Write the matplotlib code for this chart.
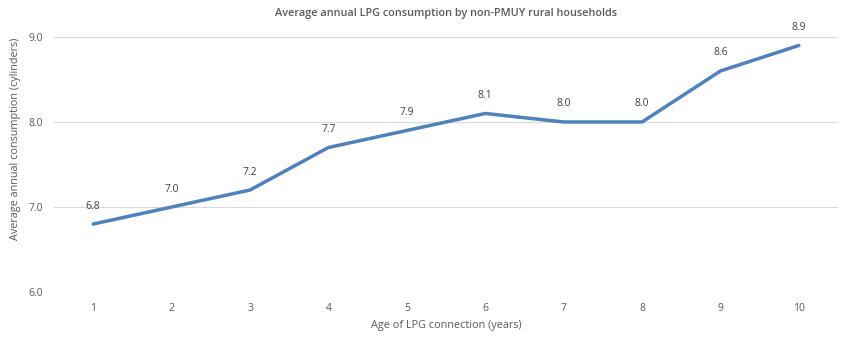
import matplotlib.pyplot as plt

# Data
age = [1, 2, 3, 4, 5, 6, 7, 8, 9, 10]
consumption = [6.8, 7.0, 7.2, 7.7, 7.9, 8.1, 8.0, 8.0, 8.6, 8.9]
yticks = [6.0, 7.0, 8.0, 9.0]

plt.rcParams['font.family'] = ['Open Sans', 'DejaVu Sans']
grey = '#595959'

fig = plt.figure(figsize=(8.5, 3.42), dpi=100)
ax = fig.add_axes([0.0635, 0.146, 0.9225, 0.746])

ax.plot(age, consumption, color='#4F81BD', linewidth=2.5, solid_capstyle='round')
for x, y in zip(age, consumption):
    ax.annotate(f'{y:.1f}', (x, y), xytext=(0, 9), textcoords='offset points',
                ha='center', va='bottom', fontsize=7.5, color='#404040')

ax.set_xlim(0.5, 10.5)
ax.set_ylim(6.0, 9.0)
ax.set_xticks(age)
ax.set_yticks(yticks)
ax.set_yticklabels([f'{v:.1f}' for v in yticks])
ax.tick_params(length=0, labelsize=7.5, colors=grey, pad=8)
ax.grid(axis='y', color='#d9d9d9', linewidth=0.8)
ax.set_axisbelow(True)
for s in ax.spines.values():
    s.set_visible(False)

ax.set_title('Average annual LPG consumption by non-PMUY rural households',
             fontsize=7.8, fontweight='semibold', color=grey, pad=15)
ax.set_xlabel('Age of LPG connection (years)', fontsize=7.8, color=grey, labelpad=4)
ax.set_ylabel('Average annual consumption (cylinders)', fontsize=7.8, color=grey)
ax.yaxis.set_label_coords(-0.042, 0.6)

fig.savefig('out.png', dpi=100, facecolor='white')
